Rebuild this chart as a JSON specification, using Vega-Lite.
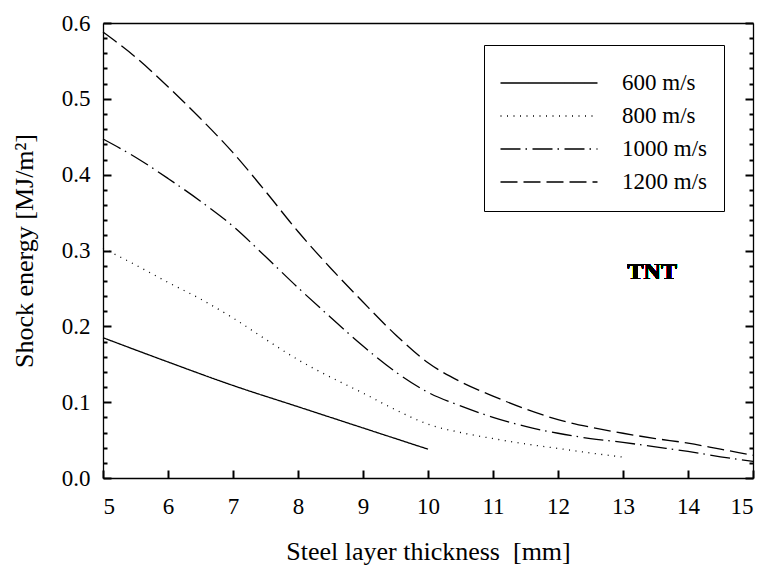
{
  "$schema": "https://vega.github.io/schema/vega-lite/v6.json",
  "width": 650,
  "height": 455,
  "autosize": {"type": "none"},
  "padding": {"left": 103, "top": 23, "right": 13, "bottom": 90},
  "background": "white",
  "config": {
    "font": "Liberation Serif"
  },
  "data": {"values": [
    {"t": 5, "e": 0.185, "v": "600 m/s"},
    {"t": 6, "e": 0.153, "v": "600 m/s"},
    {"t": 7, "e": 0.122, "v": "600 m/s"},
    {"t": 8, "e": 0.094, "v": "600 m/s"},
    {"t": 9, "e": 0.066, "v": "600 m/s"},
    {"t": 10, "e": 0.038, "v": "600 m/s"},
    {"t": 5, "e": 0.303, "v": "800 m/s"},
    {"t": 5.5, "e": 0.281, "v": "800 m/s"},
    {"t": 6, "e": 0.258, "v": "800 m/s"},
    {"t": 6.5, "e": 0.236, "v": "800 m/s"},
    {"t": 7, "e": 0.211, "v": "800 m/s"},
    {"t": 7.5, "e": 0.183, "v": "800 m/s"},
    {"t": 8, "e": 0.156, "v": "800 m/s"},
    {"t": 8.5, "e": 0.133, "v": "800 m/s"},
    {"t": 9, "e": 0.112, "v": "800 m/s"},
    {"t": 9.5, "e": 0.090, "v": "800 m/s"},
    {"t": 10, "e": 0.071, "v": "800 m/s"},
    {"t": 10.5, "e": 0.060, "v": "800 m/s"},
    {"t": 11, "e": 0.052, "v": "800 m/s"},
    {"t": 11.5, "e": 0.045, "v": "800 m/s"},
    {"t": 12, "e": 0.039, "v": "800 m/s"},
    {"t": 12.5, "e": 0.033, "v": "800 m/s"},
    {"t": 13.05, "e": 0.027, "v": "800 m/s"},
    {"t": 5, "e": 0.447, "v": "1000 m/s"},
    {"t": 5.5, "e": 0.423, "v": "1000 m/s"},
    {"t": 6, "e": 0.395, "v": "1000 m/s"},
    {"t": 6.5, "e": 0.365, "v": "1000 m/s"},
    {"t": 7, "e": 0.332, "v": "1000 m/s"},
    {"t": 7.5, "e": 0.292, "v": "1000 m/s"},
    {"t": 8, "e": 0.251, "v": "1000 m/s"},
    {"t": 8.5, "e": 0.212, "v": "1000 m/s"},
    {"t": 9, "e": 0.174, "v": "1000 m/s"},
    {"t": 9.5, "e": 0.140, "v": "1000 m/s"},
    {"t": 10, "e": 0.113, "v": "1000 m/s"},
    {"t": 10.5, "e": 0.095, "v": "1000 m/s"},
    {"t": 11, "e": 0.080, "v": "1000 m/s"},
    {"t": 11.5, "e": 0.068, "v": "1000 m/s"},
    {"t": 12, "e": 0.059, "v": "1000 m/s"},
    {"t": 12.5, "e": 0.052, "v": "1000 m/s"},
    {"t": 13, "e": 0.047, "v": "1000 m/s"},
    {"t": 13.5, "e": 0.041, "v": "1000 m/s"},
    {"t": 14, "e": 0.035, "v": "1000 m/s"},
    {"t": 14.5, "e": 0.028, "v": "1000 m/s"},
    {"t": 15, "e": 0.022, "v": "1000 m/s"},
    {"t": 5, "e": 0.588, "v": "1200 m/s"},
    {"t": 5.5, "e": 0.555, "v": "1200 m/s"},
    {"t": 6, "e": 0.516, "v": "1200 m/s"},
    {"t": 6.5, "e": 0.474, "v": "1200 m/s"},
    {"t": 7, "e": 0.429, "v": "1200 m/s"},
    {"t": 7.5, "e": 0.378, "v": "1200 m/s"},
    {"t": 8, "e": 0.325, "v": "1200 m/s"},
    {"t": 8.5, "e": 0.277, "v": "1200 m/s"},
    {"t": 9, "e": 0.232, "v": "1200 m/s"},
    {"t": 9.5, "e": 0.189, "v": "1200 m/s"},
    {"t": 10, "e": 0.152, "v": "1200 m/s"},
    {"t": 10.5, "e": 0.127, "v": "1200 m/s"},
    {"t": 11, "e": 0.108, "v": "1200 m/s"},
    {"t": 11.5, "e": 0.091, "v": "1200 m/s"},
    {"t": 12, "e": 0.077, "v": "1200 m/s"},
    {"t": 12.5, "e": 0.067, "v": "1200 m/s"},
    {"t": 13, "e": 0.059, "v": "1200 m/s"},
    {"t": 13.5, "e": 0.052, "v": "1200 m/s"},
    {"t": 14, "e": 0.046, "v": "1200 m/s"},
    {"t": 14.5, "e": 0.038, "v": "1200 m/s"},
    {"t": 15, "e": 0.030, "v": "1200 m/s"}
  ]},
  "layer": [
    {
      "mark": {"type": "line", "color": "black", "strokeWidth": 1.3, "interpolate": "monotone"},
      "encoding": {
        "x": {"field": "t", "type": "quantitative", "scale": {"domain": [5, 15], "nice": false, "zero": false},
          "axis": {"title": "Steel layer thickness\u00a0 [mm]", "orient": "bottom", "values": [5,6,7,8,9,10,11,12,13,14,15], "format": "d",
            "grid": false, "domain": true, "domainColor": "black", "domainWidth": 1.3, "tickSize": -8, "tickColor": "#000000", "tickWidth": 2, "tickOpacity": 1,
            "labelFont": "Liberation Serif", "labelFontSize": 23, "labelColor": "black", "labelPadding": 25,
            "titleFont": "Liberation Serif", "titleFontSize": 26, "titleFontWeight": "normal", "titleColor": "black", "titlePadding": 20}},
        "y": {"field": "e", "type": "quantitative", "scale": {"domain": [0, 0.6], "nice": false},
          "axis": {"title": "Shock energy [MJ/m\u00b2]", "orient": "left",
            "values": [0,0.02,0.04,0.06,0.08,0.1,0.12,0.14,0.16,0.18,0.2,0.22,0.24,0.26,0.28,0.3,0.32,0.34,0.36,0.38,0.4,0.42,0.44,0.46,0.48,0.5,0.52,0.54,0.56,0.58,0.6],
            "labelExpr": "abs(datum.value*10 - round(datum.value*10)) < 0.001 ? format(datum.value, '.1f') : ''",
            "labelOverlap": false,
            "grid": false, "domain": true, "domainColor": "black", "domainWidth": 1.3, "tickColor": "#000000", "tickWidth": 2, "tickOpacity": 1,
            "tickSize": {"condition": {"test": "abs(datum.value*10 - round(datum.value*10)) < 0.001", "value": -8}, "value": -4},
            "labelFont": "Liberation Serif", "labelFontSize": 23, "labelColor": "black", "labelPadding": 21,
            "titleFont": "Liberation Serif", "titleFontSize": 26, "titleFontWeight": "normal", "titleColor": "black", "titlePadding": 24}},
        "strokeDash": {"field": "v", "type": "nominal",
          "scale": {"domain": ["600 m/s", "800 m/s", "1000 m/s", "1200 m/s"], "range": [[1, 0], [1, 5.5], [20, 5, 1.5, 5.5], [17, 6]]},
          "legend": {"title": null, "orient": "none", "legendX": 381, "legendY": 22,
            "symbolType": "M-2.425,0H2.425", "symbolSize": 1600, "symbolOffset": 27, "symbolStrokeWidth": 1.3, "symbolStrokeColor": "black", "symbolFillColor": "transparent",
            "rowPadding": -17, "labelOffset": 52, "padding": 17, "strokeColor": "black", "fillColor": "white",
            "labelFont": "Liberation Serif", "labelFontSize": 23, "labelColor": "black", "labelLimit": 300}}
      }
    },
    {
      "mark": {"type": "text", "text": "TNT", "font": "Liberation Serif", "fontSize": 24, "fontWeight": "bold", "fill": "black", "align": "center", "baseline": "middle"},
      "encoding": {
        "x": {"datum": 13.45, "type": "quantitative",
          "axis": {"title": null, "orient": "top", "labels": false, "ticks": false, "grid": false, "domain": true, "domainColor": "black", "domainWidth": 1.3}},
        "y": {"datum": 0.272, "type": "quantitative",
          "axis": {"title": null, "orient": "right", "labels": false, "grid": false, "domain": true, "domainColor": "black", "domainWidth": 1.3, "tickColor": "#000000", "tickWidth": 2, "tickOpacity": 1,
            "values": [0,0.02,0.04,0.06,0.08,0.1,0.12,0.14,0.16,0.18,0.2,0.22,0.24,0.26,0.28,0.3,0.32,0.34,0.36,0.38,0.4,0.42,0.44,0.46,0.48,0.5,0.52,0.54,0.56,0.58,0.6],
            "tickSize": {"condition": {"test": "abs(datum.value*10 - round(datum.value*10)) < 0.001", "value": -8}, "value": -4}}}
      }
    }
  ],
  "resolve": {"axis": {"x": "independent", "y": "independent"}}
}
